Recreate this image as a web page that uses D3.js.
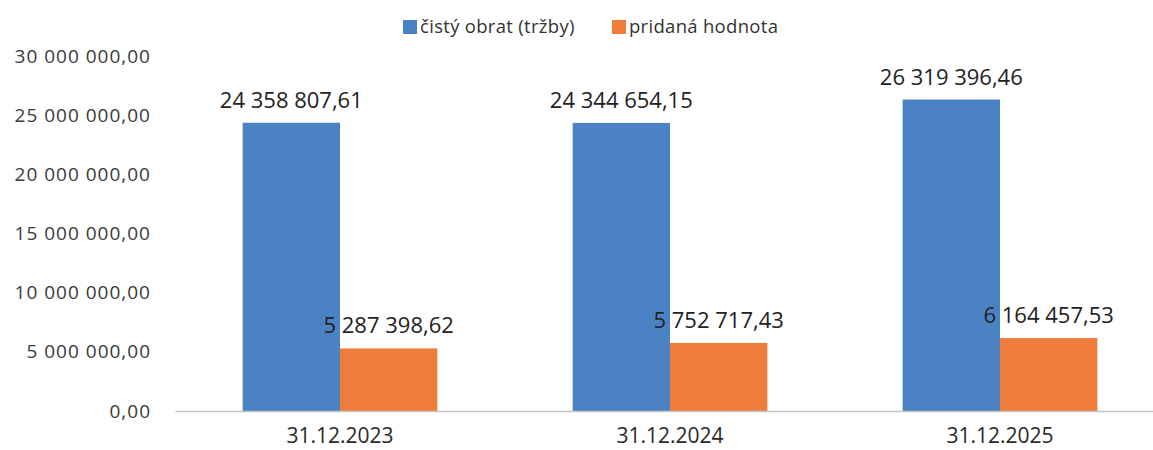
<!DOCTYPE html>
<html>
<head>
<meta charset="utf-8">
<script src="https://cdn.jsdelivr.net/npm/d3@7"></script>
<style>
  body { margin: 0; background: #fff; }
  svg { display: block; }
</style>
</head>
<body>
<div id="chart"></div>
<script>
const categories = ["31.12.2023", "31.12.2024", "31.12.2025"];
const seriesNames = ["čistý obrat (tržby)", "pridaná hodnota"];
const obrat = [24358807.61, 24344654.15, 26319396.46];
const pridana = [5287398.62, 5752717.43, 6164457.53];
const yTicks = [0, 5000000, 10000000, 15000000, 20000000, 25000000, 30000000];
const colors = ["#4b82c4", "#ee7c3a"];

const width = 1153, height = 450;
const margin = { top: 56, right: -12, bottom: 39, left: 175 };

const svg = d3.select("#chart").append("svg")
  .attr("width", width)
  .attr("height", height);

// format like "24 358 807,61"
function fmt(v) {
  const parts = v.toFixed(2).split(".");
  const intPart = parts[0].replace(/\B(?=(\d{3})+(?!\d))/g, " ");
  return intPart + "," + parts[1];
}

const x0 = d3.scaleBand()
  .domain(categories)
  .range([margin.left, width - margin.right])
  .paddingInner(0.41)
  .paddingOuter(0.205);

const x1 = d3.scaleBand()
  .domain([0, 1])
  .range([0, x0.bandwidth()]);

const y = d3.scaleLinear()
  .domain([0, 30000000])
  .range([height - margin.bottom, margin.top]);

// y axis labels
const yAxis = svg.append("g")
  .attr("transform", `translate(${margin.left}, 0)`)
  .call(d3.axisLeft(y).tickValues(yTicks).tickFormat(fmt).tickSize(0).tickPadding(24));
yAxis.select(".domain").remove();
yAxis.selectAll("text")
  .attr("font-family", "Open Sans")
  .attr("font-size", "19px")
  .attr("letter-spacing", "1px")
  .attr("fill", "#3a3a3a");

// bars
const data = categories.map((c, i) => ({ cat: c, values: [obrat[i], pridana[i]] }));

const groups = svg.selectAll(".grp")
  .data(data)
  .enter()
  .append("g")
  .attr("class", "grp")
  .attr("transform", d => `translate(${x0(d.cat)}, 0)`);

groups.selectAll("rect")
  .data(d => d.values.map((v, k) => ({ k, v })))
  .enter()
  .append("rect")
  .attr("x", d => x1(d.k))
  .attr("y", d => y(d.v))
  .attr("width", x1.bandwidth())
  .attr("height", d => y(0) - y(d.v))
  .attr("fill", d => colors[d.k]);

groups.selectAll(".lbl")
  .data(d => d.values.map((v, k) => ({ k, v })))
  .enter()
  .append("text")
  .attr("class", "lbl")
  .attr("x", d => x1(d.k) + x1.bandwidth() / 2)
  .attr("y", d => y(d.v) - 15)
  .attr("text-anchor", "middle")
  .attr("font-family", "Open Sans")
  .attr("font-size", "22px")
  .attr("fill", "#222")
  .text(d => fmt(d.v));

// x axis
const xAxis = svg.append("g")
  .attr("transform", `translate(0, ${y(0)})`)
  .call(d3.axisBottom(x0).tickSize(0).tickPadding(17));
xAxis.select(".domain")
  .attr("stroke", "#c4c4c4")
  .attr("stroke-width", 1.5);
xAxis.selectAll("text")
  .attr("font-family", "Open Sans")
  .attr("font-size", "21px")
  .attr("fill", "#2a2a2a");

// legend
const legendX = [403, 612];
const legend = svg.append("g").attr("transform", "translate(0, 20)");
seriesNames.forEach((name, i) => {
  legend.append("rect")
    .attr("x", legendX[i])
    .attr("y", 0)
    .attr("width", 14)
    .attr("height", 14)
    .attr("fill", colors[i]);
  legend.append("text")
    .attr("x", legendX[i] + 17)
    .attr("y", 13)
    .attr("font-family", "Open Sans")
    .attr("font-size", "18.5px")
    .attr("letter-spacing", "0.3px")
    .attr("fill", "#333")
    .text(name);
});
</script>
</body>
</html>
